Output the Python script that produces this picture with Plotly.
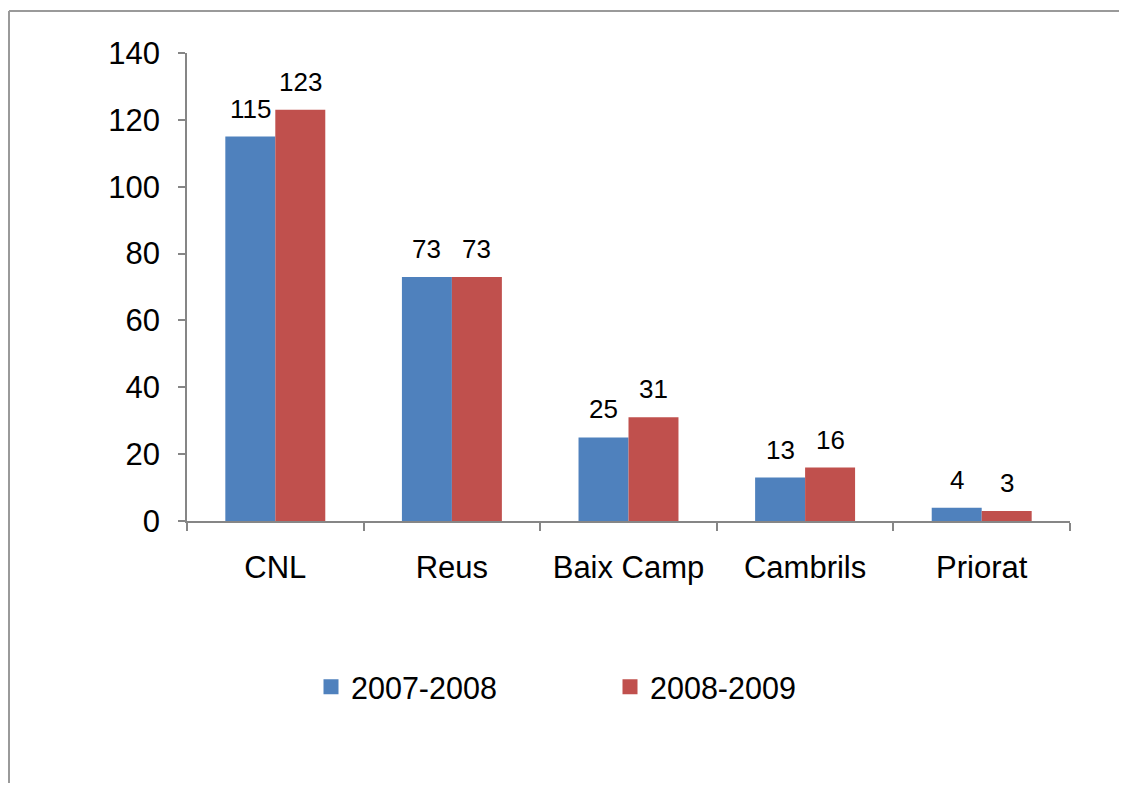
import plotly.graph_objects as go

categories = ["CNL", "Reus", "Baix Camp", "Cambrils", "Priorat"]
series_names = ["2007-2008", "2008-2009"]
values_2007_2008 = [115, 73, 25, 13, 4]
values_2008_2009 = [123, 73, 31, 16, 3]
y_ticks = [0, 20, 40, 60, 80, 100, 120, 140]

colors = ["#4F81BD", "#C0504D"]
FONT = "Liberation Sans, Arial, sans-serif"

# page body has an 8px margin, so the figure is laid out in shifted coordinates
W, H = 1111, 775
L, R, T, B = 179, 49, 45, 262
pw, ph = W - L - R, H - T - B

fig = go.Figure()
for name, vals, c in zip(series_names, [values_2007_2008, values_2008_2009], colors):
    fig.add_trace(go.Bar(x=categories, y=vals, name=name, showlegend=False,
                         marker=dict(color=c, line=dict(width=0))))
# legend entries with larger square swatches
for name, c in zip(series_names, colors):
    fig.add_trace(go.Scatter(x=[None], y=[None], mode="markers", name=name,
                             marker=dict(symbol="square", size=15, color=c)))

annotations = []
for shift, vals in zip([-25, 25], [values_2007_2008, values_2008_2009]):
    for cat, v in zip(categories, vals):
        annotations.append(dict(x=cat, y=v, xref="x", yref="y", text=str(v), showarrow=False,
                                xshift=shift, yshift=11, yanchor="bottom",
                                font=dict(family=FONT, size=26, color="black")))

# chart-area border (only left and top edges are visible in the frame)
bx0 = (1 - L) / pw
by1 = 1 + (T - 3) / ph
border = dict(color="#9a9a9a", width=2)
shapes = [
    dict(type="line", xref="paper", yref="paper", x0=bx0, x1=bx0, y0=-(B + 40) / ph, y1=by1, line=border),
    dict(type="line", xref="paper", yref="paper", x0=bx0, x1=1 + (R + 40) / pw, y0=by1, y1=by1, line=border),
]

axis_color = "#868686"
fig.update_layout(
    width=W, height=H,
    margin=dict(l=L, r=R, t=T, b=B, pad=0),
    paper_bgcolor="white", plot_bgcolor="white",
    barmode="group", bargap=0.434, bargroupgap=0,
    font=dict(family=FONT, color="black"),
    showlegend=True,
    legend=dict(orientation="h", x=(303 - L) / pw, xanchor="left",
                y=-(679 - (T + ph)) / ph, yanchor="middle",
                font=dict(family=FONT, size=30.5, color="black"),
                entrywidth=254, entrywidthmode="pixels",
                bgcolor="rgba(0,0,0,0)"),
    annotations=annotations,
    shapes=shapes,
    xaxis=dict(showline=True, linecolor=axis_color, linewidth=1.5,
               ticks="outside", tickson="boundaries", ticklen=8, tickcolor=axis_color, tickwidth=1.5,
               tickfont=dict(family=FONT, size=31, color="black"),
               showgrid=False, zeroline=False, ticklabelstandoff=18),
    yaxis=dict(range=[0, 140], tickvals=y_ticks, showline=True, linecolor=axis_color, linewidth=1.5,
               ticks="outside", ticklen=7, tickcolor=axis_color, tickwidth=1.5,
               tickfont=dict(family=FONT, size=31, color="black"),
               showgrid=False, zeroline=False, ticklabelstandoff=12),
)

fig.write_html("out.html")
